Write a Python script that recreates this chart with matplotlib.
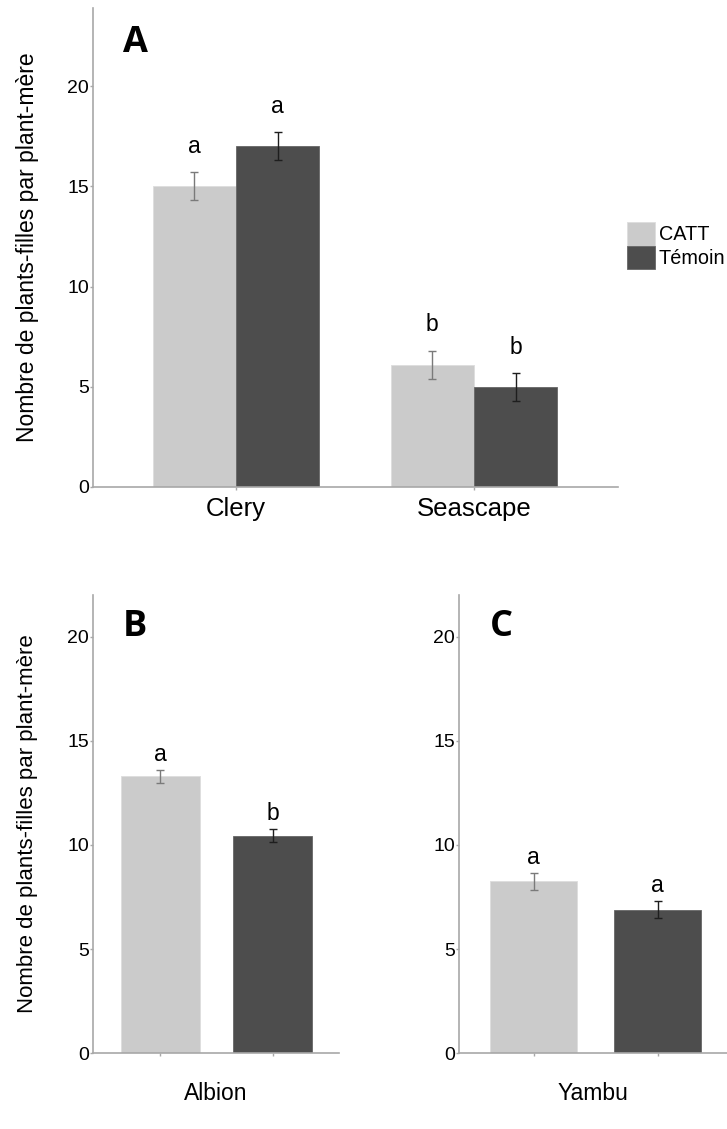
import matplotlib.pyplot as plt
import numpy as np

plt.rcParams['font.family'] = ['Liberation Sans', 'DejaVu Sans']

# panel A
cult_a = ['Clery', 'Seascape']
catt_a = [15.0, 6.1]
catt_a_err = [0.7, 0.7]
temoin_a = [17.0, 5.0]
temoin_a_err = [0.7, 0.7]
letters_catt_a = ['a', 'b']
letters_temoin_a = ['a', 'b']

# panels B and C (one cultivar each)
cult_bc = ['Albion', 'Yambu']
catt_bc = [13.3, 8.25]
catt_bc_err = [0.32, 0.42]
temoin_bc = [10.45, 6.9]
temoin_bc_err = [0.33, 0.41]
letters_bc = [['a', 'b'], ['a', 'a']]

light = '#cbcbcb'
dark = '#4d4d4d'
spine_col = '#a8a8a8'
ylab = 'Nombre de plants-filles par plant-mère'

fig = plt.figure(figsize=(7.27, 11.29), dpi=100)


def style(ax, top):
    for s in ['top', 'right']:
        ax.spines[s].set_visible(False)
    for s in ['left', 'bottom']:
        ax.spines[s].set_color(spine_col)
        ax.spines[s].set_linewidth(1.2)
    ax.set_ylim(0, top)
    ax.set_yticks([0, 5, 10, 15, 20])
    ax.tick_params(axis='y', length=2, width=1, color=spine_col, labelsize=14, pad=1)
    ax.tick_params(axis='x', length=2, width=1, color=spine_col)


# ---- A ----
axA = fig.add_axes([0.1279, 0.5687, 0.7222, 0.4242])
x = np.arange(len(cult_a))
w = 0.35
b1 = axA.bar(x - w / 2, catt_a, w, color=light, edgecolor='#dddddd', linewidth=0.6, label='CATT')
b2 = axA.bar(x + w / 2, temoin_a, w, color=dark, edgecolor='#666666', linewidth=0.6, label='Témoin')
axA.errorbar(x - w / 2, catt_a, yerr=catt_a_err, fmt='none', ecolor='#7a7a7a', elinewidth=1, capsize=3)
axA.errorbar(x + w / 2, temoin_a, yerr=temoin_a_err, fmt='none', ecolor='#1e1e1e', elinewidth=1, capsize=3)
for i in range(len(cult_a)):
    axA.annotate(letters_catt_a[i], (x[i] - w / 2, catt_a[i] + catt_a_err[i]), xytext=(0, 18.5),
                 textcoords='offset points', ha='center', va='center', fontsize=16.5)
    axA.annotate(letters_temoin_a[i], (x[i] + w / 2, temoin_a[i] + temoin_a_err[i]), xytext=(0, 18.5),
                 textcoords='offset points', ha='center', va='center', fontsize=16.5)
style(axA, 23.9)
axA.set_xlim(-0.60, 1.605)
axA.set_xticks(x)
axA.set_xticklabels(cult_a, fontsize=18.5)
axA.tick_params(axis='x', pad=5)
axA.set_ylabel(ylab, fontsize=16.5)
axA.yaxis.set_label_coords(-0.102, 0.5)
axA.text(0.08, 0.927, 'A', transform=axA.transAxes, ha='center', va='center',
         fontsize=26, fontweight='bold', family='Open Sans')
fig.legend(handles=[b1, b2], loc='upper left', bbox_to_anchor=(627 / 727, 1 - 222 / 1129),
           frameon=False, fontsize=14.3, handlelength=1.4, handleheight=1.45,
           labelspacing=0, handletextpad=0.2, borderpad=0, borderaxespad=0)

# ---- B and C ----
pos = [[0.1279, 0.0671, 0.3384, 0.4059], [0.6318, 0.0671, 0.3682, 0.4059]]
xlims = [(-0.60, 1.59), (-0.60, 1.56)]
tags = ['B', 'C']
tag_x = [0.171, 0.158]
for k in range(2):
    ax = fig.add_axes(pos[k])
    ax.bar(0, catt_bc[k], 0.70, color=light, edgecolor='#dddddd', linewidth=0.6)
    ax.bar(1, temoin_bc[k], 0.70, color=dark, edgecolor='#666666', linewidth=0.6)
    ax.errorbar(0, catt_bc[k], yerr=catt_bc_err[k], fmt='none', ecolor='#7a7a7a', elinewidth=1, capsize=3)
    ax.errorbar(1, temoin_bc[k], yerr=temoin_bc_err[k], fmt='none', ecolor='#1e1e1e', elinewidth=1, capsize=3)
    ax.annotate(letters_bc[k][0], (0, catt_bc[k] + catt_bc_err[k]), xytext=(0, 11),
                textcoords='offset points', ha='center', va='center', fontsize=16.5)
    ax.annotate(letters_bc[k][1], (1, temoin_bc[k] + temoin_bc_err[k]), xytext=(0, 11),
                textcoords='offset points', ha='center', va='center', fontsize=16.5)
    style(ax, 22)
    ax.set_xlim(*xlims[k])
    ax.set_xticks([0, 1])
    ax.set_xticklabels(['', ''])
    ax.set_xlabel(cult_bc[k], fontsize=16.5, labelpad=15)
    ax.text(tag_x[k], 0.931, tags[k], transform=ax.transAxes, ha='center', va='center',
            fontsize=26, fontweight='bold', family='Open Sans')
    if k == 0:
        ax.set_ylabel(ylab, fontsize=16)
        ax.yaxis.set_label_coords(-0.224, 0.5)

fig.savefig('out.png', dpi=100)
